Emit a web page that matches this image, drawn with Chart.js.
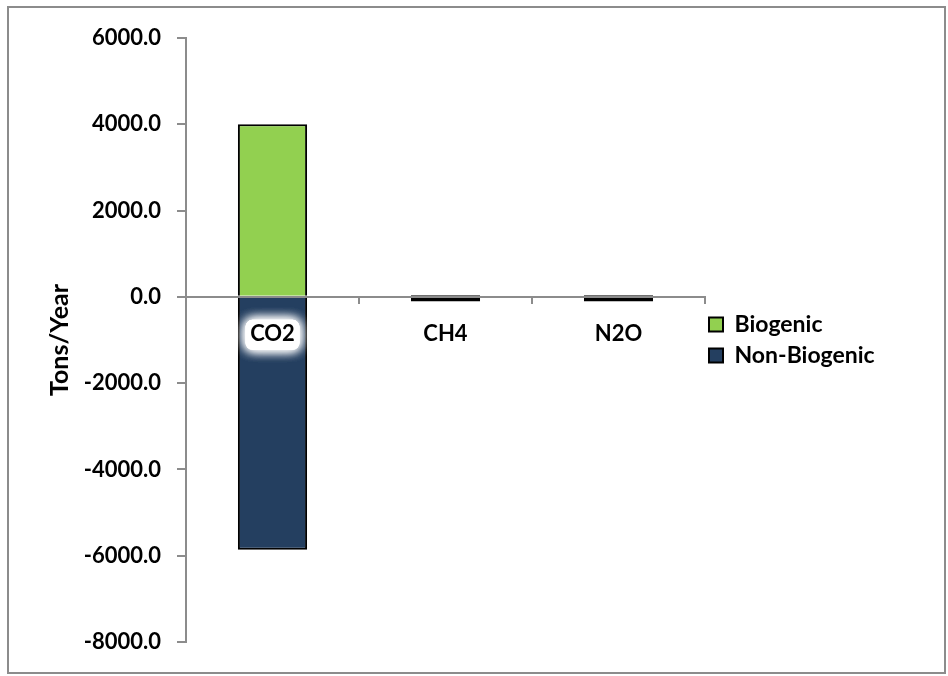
<!DOCTYPE html>
<html>
<head>
<meta charset="utf-8">
<script src="https://cdn.jsdelivr.net/npm/chart.js@4/dist/chart.umd.min.js"></script>
<style>
  html, body { margin: 0; padding: 0; background: #ffffff; }
  #frame {
    position: absolute; left: 7px; top: 6px; width: 939px; height: 668px;
    box-sizing: border-box; border: 2px solid #8c8c8c; background: #fff;
  }
  #chart { display: block; }
</style>
</head>
<body>
<div id="frame"><canvas id="chart" width="935" height="664"></canvas></div>
<script>
// Emissions by gas, tons per year
const categories = ['CO2', 'CH4', 'N2O'];
const biogenic = [4000, 45, 45];
const nonBiogenic = [-5860, -110, -105];
const seriesNames = ['Biogenic', 'Non-Biogenic'];
const yMin = -8000, yMax = 6000, yStep = 2000;
const axisTitle = 'Tons/Year';

const FONT = 'Lato, "Open Sans", sans-serif';
const GREEN = '#92d050';
const NAVY = '#243f60';
const GREY = '#8c8c8c';

Chart.defaults.font.family = FONT;
Chart.defaults.font.weight = 'bold';
Chart.defaults.color = '#000';

// soft white plate under the first category label, which sits over the dark bar
const labelGlow = {
  id: 'labelGlow',
  afterDatasetsDraw(chart) {
    const ctx = chart.ctx;
    const cx = chart.scales.x.getPixelForTick(0);
    const cy = chart.scales.y.getPixelForValue(0) + 38;
    ctx.save();
    ctx.fillStyle = '#ffffff';
    ctx.shadowColor = '#ffffff';
    ctx.shadowBlur = 12;
    ctx.beginPath();
    ctx.roundRect(cx - 27, cy - 15, 54, 30, 7);
    ctx.fill();
    ctx.fill();
    ctx.fill();
    ctx.restore();
  }
};

// nudge the legend block so it hugs the plot edge
const legendNudge = {
  id: 'legendNudge',
  afterLayout(chart) {
    const lg = chart.legend;
    if (lg) { lg.left -= 4; lg.right -= 4; }
  }
};

// tall bars leave their base edge open; very short bars are drawn fully outlined
const edgeSkip = ctx => (Math.abs(ctx.raw) > 1000 ? 'start' : false);

const chart = new Chart(document.getElementById('chart'), {
  type: 'bar',
  data: {
    labels: categories,
    datasets: [
      { label: seriesNames[0], data: biogenic, backgroundColor: GREEN, borderColor: '#000', borderWidth: 2, borderSkipped: edgeSkip },
      { label: seriesNames[1], data: nonBiogenic, backgroundColor: NAVY, borderColor: '#000', borderWidth: 2, borderSkipped: edgeSkip }
    ]
  },
  options: {
    responsive: false,
    animation: false,
    datasets: { bar: { categoryPercentage: 1, barPercentage: 0.4 } },
    layout: { padding: { left: 0, top: 30, bottom: 30, right: 60 } },
    plugins: {
      tooltip: { enabled: false },
      legend: {
        position: 'right',
        align: 'center',
        labels: {
          font: { family: FONT, size: 23, weight: 'bold' },
          color: '#000',
          boxWidth: 14,
          boxHeight: 14,
          padding: 8
        }
      }
    },
    scales: {
      x: {
        stacked: true,
        position: { y: 0 },
        grid: { display: true, drawOnChartArea: false, offset: true, tickLength: 6, color: GREY, lineWidth: 2, z: 1 },
        border: { display: true, color: GREY, width: 2, z: 1 },
        ticks: {
          z: 1,
          font: { family: FONT, size: 22, weight: 'bold' },
          color: '#000',
          padding: 18,
          maxRotation: 0
        }
      },
      y: {
        stacked: true,
        min: yMin,
        max: yMax,
        afterFit(scale) { scale.width = 177; },
        grid: { display: true, drawOnChartArea: false, tickLength: 9, color: GREY, lineWidth: 2 },
        border: { display: true, color: GREY, width: 2 },
        ticks: {
          stepSize: yStep,
          font: { family: FONT, size: 22, weight: 'bold' },
          color: '#000',
          padding: 16,
          callback: v => Number(v).toFixed(1)
        },
        title: {
          display: true,
          text: axisTitle,
          font: { family: FONT, size: 25, weight: 'bold' },
          color: '#000',
          padding: { top: 36, bottom: 0 }
        }
      }
    }
  },
  plugins: [labelGlow, legendNudge]
});

// keep the plot's right edge at a fixed spot regardless of legend text width
const targetRight = 696;
chart.options.layout.padding.right += chart.chartArea.right - targetRight;
chart.update();
</script>
</body>
</html>
